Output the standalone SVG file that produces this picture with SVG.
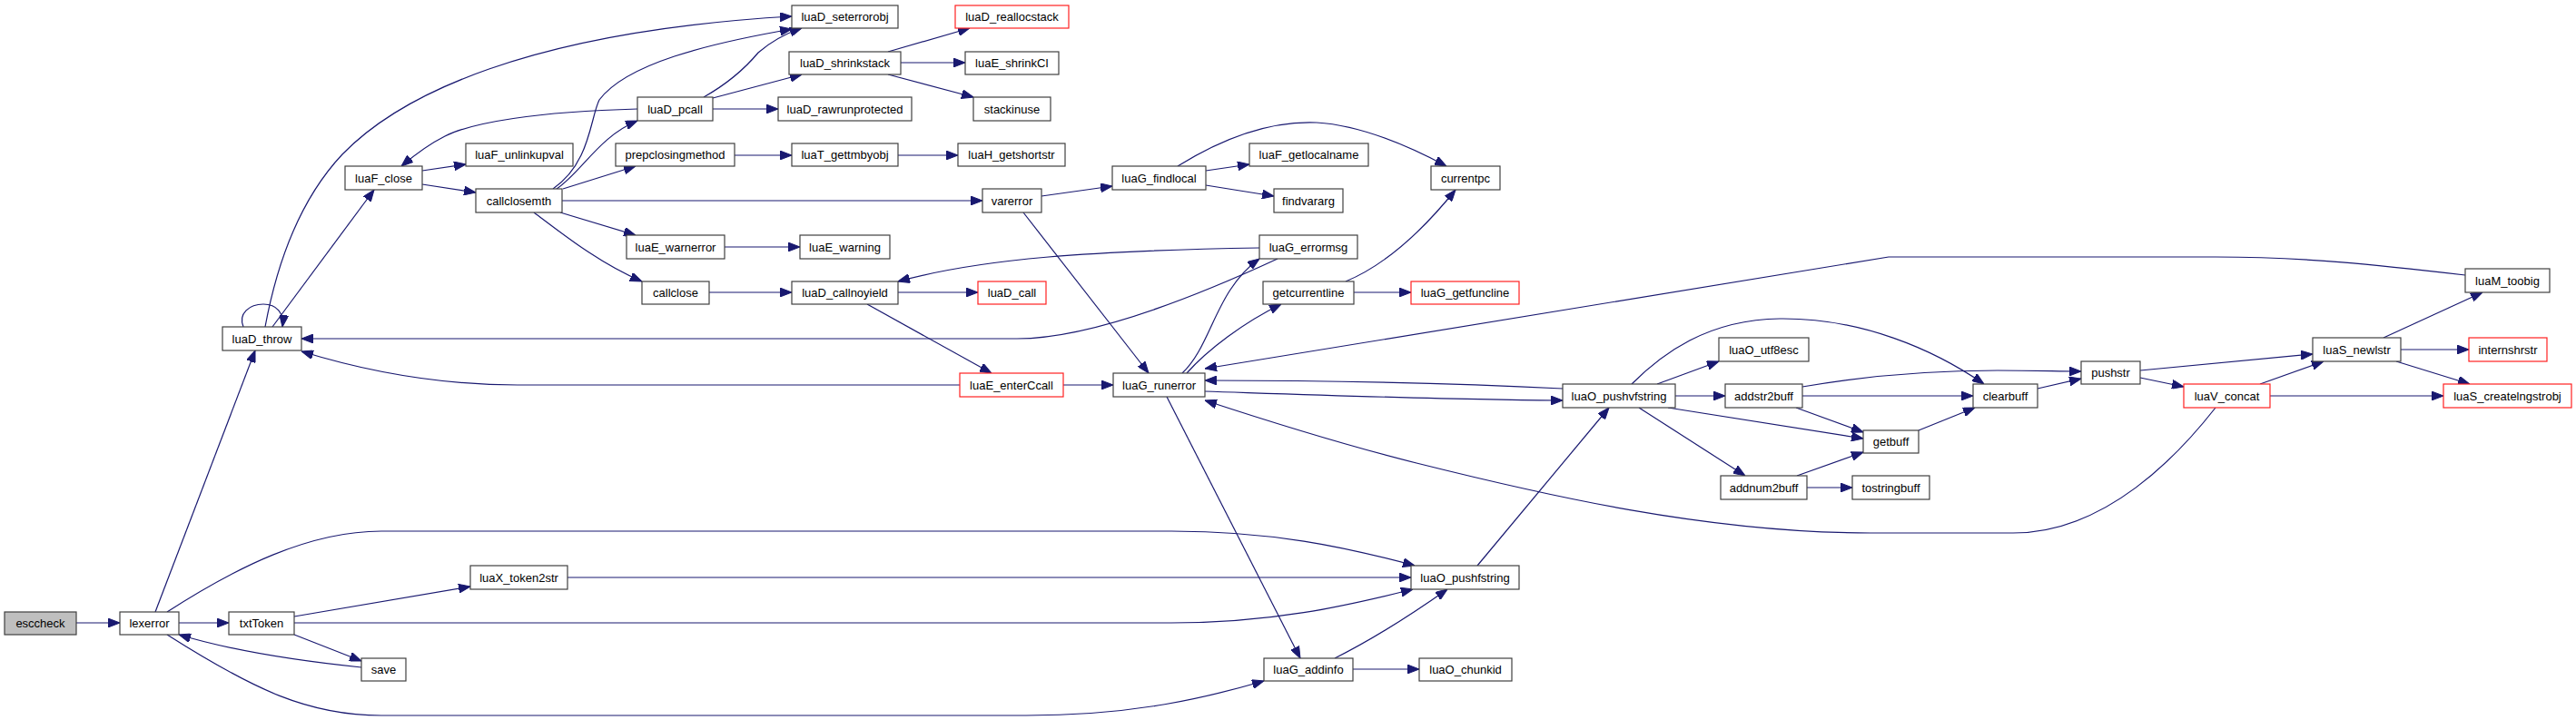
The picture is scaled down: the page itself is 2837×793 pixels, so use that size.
<svg xmlns="http://www.w3.org/2000/svg" width="2837" height="793" viewBox="0 0 2837 793">
<style>
.n rect{fill:#fff;stroke:#404040;stroke-width:1.2}
.n.r rect{stroke:#ff2020}
.n.g rect{fill:#bfbfbf}
.n text{font-family:"Liberation Sans",Arial,sans-serif;font-size:13px;fill:#000;text-anchor:middle}
.e path{fill:none;stroke:#191970;stroke-width:1.2;stroke-linejoin:round;marker-end:url(#a)}
</style>
<defs>
<marker id="a" viewBox="0 0 13 10" refX="13" refY="5" markerWidth="13" markerHeight="10" markerUnits="userSpaceOnUse" orient="auto">
<path d="M0,0 L13,5 L0,10 z" fill="#191970" stroke="#191970" stroke-width="1"/>
</marker>
</defs>
<rect width="2837" height="793" fill="#fff"/>
<g id="edges" class="e">
<path d="M84,686 L132,686"/>
<path d="M171,674 L281,386"/>
<path d="M197,686 L252,686"/>
<path d="M184,674 C260,625 340,585 420,585 L1290,585 C1400,585 1480,602 1558,623"/>
<path d="M184,699 C280,760 340,788 420,788 L1130,788 C1250,788 1330,768 1392,750"/>
<path d="M324,679 L518,646"/>
<path d="M324,686 L1290,686 C1400,686 1480,668 1556,649"/>
<path d="M324,699 L398,728"/>
<path d="M398,735 C330,728 260,718 197,699"/>
<path d="M625,636 L1554,636"/>
<path d="M1627,623 L1772,449"/>
<path d="M1470,725 C1510,705 1550,680 1594,649"/>
<path d="M1490,737 L1563,737"/>
<path d="M1285,437 L1432,725"/>
<path d="M1327,431 C1480,436 1620,441 1721,441"/>
<path d="M1721,428 C1600,422 1450,419 1327,419"/>
<path d="M1171,424 L1226,424"/>
<path d="M1057,424 L570,424 C480,424 400,408 332,387"/>
<path d="M1407,285 C1340,316 1210,373 1120,373 L332,373"/>
<path d="M1387,273 C1200,276 1080,285 989,310"/>
<path d="M989,322 L1077,322"/>
<path d="M955,335 L1092,411"/>
<path d="M781,322 L872,322"/>
<path d="M1302,411 C1335,380 1338,320 1387,285"/>
<path d="M1307,411 C1330,385 1370,355 1411,335"/>
<path d="M1482,310 C1530,290 1570,250 1603,209"/>
<path d="M1491,322 L1554,322"/>
<path d="M1297,183 C1350,150 1400,133 1450,135 C1500,138 1550,160 1593,183"/>
<path d="M1328,188 L1376,181"/>
<path d="M1328,204 L1403,216"/>
<path d="M1147,216 L1225,205"/>
<path d="M1127,234 L1265,411"/>
<path d="M619,221 L1082,221"/>
<path d="M617,234 L700,259"/>
<path d="M588,234 C620,258 660,290 707,310"/>
<path d="M620,208 L700,183"/>
<path d="M613,208 C640,190 660,150 702,133"/>
<path d="M609,208 C650,180 650,130 660,110 C690,70 780,48 872,32"/>
<path d="M775,107 C805,90 825,70 835,58 C850,45 865,37 883,31"/>
<path d="M785,108 L883,82"/>
<path d="M785,120 L857,120"/>
<path d="M702,120 C590,123 520,135 490,150 C470,160 455,172 442,183"/>
<path d="M465,188 L513,181"/>
<path d="M465,203 L524,212"/>
<path d="M978,57 L1068,31"/>
<path d="M992,69 L1063,69"/>
<path d="M978,82 L1072,107"/>
<path d="M809,171 L872,171"/>
<path d="M989,171 L1055,171"/>
<path d="M798,272 L881,272"/>
<path d="M268,360 C262,345 275,335 290,335 C305,335 313,345 311,360"/>
<path d="M292,360 C305,290 330,220 377,170 C440,105 580,35 872,18"/>
<path d="M300,360 L412,209"/>
<path d="M1825,423 L1893,398"/>
<path d="M1845,436 L1900,436"/>
<path d="M1837,449 L2052,483"/>
<path d="M1805,449 L1922,524"/>
<path d="M1797,423 C1830,390 1880,352 1960,351 C2050,350 2130,385 2185,423"/>
<path d="M1985,426 C2060,413 2140,408 2200,408 C2240,408 2270,409 2292,409"/>
<path d="M1985,436 L2173,436"/>
<path d="M1978,449 L2052,476"/>
<path d="M2113,474 L2175,449"/>
<path d="M1979,524 L2052,498"/>
<path d="M1990,537 L2040,537"/>
<path d="M2244,428 L2292,417"/>
<path d="M2357,408 L2547,390"/>
<path d="M2357,416 L2405,426"/>
<path d="M2489,423 L2559,398"/>
<path d="M2500,436 L2691,436"/>
<path d="M2440,449 C2400,500 2320,587 2217,587 L2060,587 C1880,587 1700,545 1560,510 C1480,490 1400,465 1327,441"/>
<path d="M2625,372 L2734,322"/>
<path d="M2644,385 L2719,385"/>
<path d="M2639,398 L2720,423"/>
<path d="M2715,303 C2620,292 2540,283 2440,283 L2080,283 L1327,406"/>
</g>
<g id="esccheck" class="n g"><rect x="5" y="674" width="79" height="25"/><text x="44.5" y="691">esccheck</text></g>
<g id="lexerror" class="n"><rect x="132" y="674" width="65" height="25"/><text x="164.5" y="691">lexerror</text></g>
<g id="txtToken" class="n"><rect x="252" y="674" width="72" height="25"/><text x="288" y="691">txtToken</text></g>
<g id="save" class="n"><rect x="398" y="725" width="49" height="25"/><text x="422.5" y="742">save</text></g>
<g id="luaD_throw" class="n"><rect x="245" y="360" width="87" height="26"/><text x="288.5" y="377.5">luaD_throw</text></g>
<g id="luaF_close" class="n"><rect x="380" y="183" width="85" height="26"/><text x="422.5" y="200.5">luaF_close</text></g>
<g id="luaD_seterrorobj" class="n"><rect x="872" y="6" width="117" height="25"/><text x="930.5" y="23">luaD_seterrorobj</text></g>
<g id="luaD_shrinkstack" class="n"><rect x="869" y="57" width="123" height="25"/><text x="930.5" y="74">luaD_shrinkstack</text></g>
<g id="luaD_pcall" class="n"><rect x="702" y="107" width="83" height="26"/><text x="743.5" y="124.5">luaD_pcall</text></g>
<g id="luaD_rawrunprotected" class="n"><rect x="857" y="107" width="147" height="26"/><text x="930.5" y="124.5">luaD_rawrunprotected</text></g>
<g id="luaF_unlinkupval" class="n"><rect x="513" y="158" width="118" height="25"/><text x="572" y="175">luaF_unlinkupval</text></g>
<g id="prepclosingmethod" class="n"><rect x="678" y="158" width="131" height="25"/><text x="743.5" y="175">prepclosingmethod</text></g>
<g id="luaT_gettmbyobj" class="n"><rect x="872" y="158" width="117" height="25"/><text x="930.5" y="175">luaT_gettmbyobj</text></g>
<g id="callclosemth" class="n"><rect x="524" y="208" width="95" height="26"/><text x="571.5" y="225.5">callclosemth</text></g>
<g id="luaE_warnerror" class="n"><rect x="690" y="259" width="108" height="26"/><text x="744" y="276.5">luaE_warnerror</text></g>
<g id="luaE_warning" class="n"><rect x="881" y="259" width="99" height="26"/><text x="930.5" y="276.5">luaE_warning</text></g>
<g id="callclose" class="n"><rect x="707" y="310" width="74" height="25"/><text x="744" y="327">callclose</text></g>
<g id="luaD_callnoyield" class="n"><rect x="872" y="310" width="117" height="25"/><text x="930.5" y="327">luaD_callnoyield</text></g>
<g id="luaD_reallocstack" class="n r"><rect x="1052" y="6" width="125" height="25"/><text x="1114.5" y="23">luaD_reallocstack</text></g>
<g id="luaE_shrinkCI" class="n"><rect x="1063" y="57" width="103" height="25"/><text x="1114.5" y="74">luaE_shrinkCI</text></g>
<g id="stackinuse" class="n"><rect x="1072" y="107" width="85" height="26"/><text x="1114.5" y="124.5">stackinuse</text></g>
<g id="luaH_getshortstr" class="n"><rect x="1055" y="158" width="118" height="25"/><text x="1114" y="175">luaH_getshortstr</text></g>
<g id="varerror" class="n"><rect x="1082" y="208" width="65" height="26"/><text x="1114.5" y="225.5">varerror</text></g>
<g id="luaG_findlocal" class="n"><rect x="1225" y="183" width="103" height="26"/><text x="1276.5" y="200.5">luaG_findlocal</text></g>
<g id="luaD_call" class="n r"><rect x="1077" y="310" width="75" height="25"/><text x="1114.5" y="327">luaD_call</text></g>
<g id="luaF_getlocalname" class="n"><rect x="1376" y="158" width="131" height="25"/><text x="1441.5" y="175">luaF_getlocalname</text></g>
<g id="findvararg" class="n"><rect x="1403" y="208" width="76" height="26"/><text x="1441" y="225.5">findvararg</text></g>
<g id="luaG_errormsg" class="n"><rect x="1387" y="259" width="108" height="26"/><text x="1441" y="276.5">luaG_errormsg</text></g>
<g id="getcurrentline" class="n"><rect x="1391" y="310" width="100" height="25"/><text x="1441" y="327">getcurrentline</text></g>
<g id="currentpc" class="n"><rect x="1576" y="183" width="76" height="26"/><text x="1614" y="200.5">currentpc</text></g>
<g id="luaG_getfuncline" class="n r"><rect x="1554" y="310" width="119" height="25"/><text x="1613.5" y="327">luaG_getfuncline</text></g>
<g id="luaE_enterCcall" class="n r"><rect x="1057" y="411" width="114" height="26"/><text x="1114" y="428.5">luaE_enterCcall</text></g>
<g id="luaG_runerror" class="n"><rect x="1226" y="411" width="101" height="26"/><text x="1276.5" y="428.5">luaG_runerror</text></g>
<g id="luaG_addinfo" class="n"><rect x="1392" y="725" width="98" height="25"/><text x="1441" y="742">luaG_addinfo</text></g>
<g id="luaO_pushvfstring" class="n"><rect x="1721" y="423" width="124" height="26"/><text x="1783" y="440.5">luaO_pushvfstring</text></g>
<g id="luaO_pushfstring" class="n"><rect x="1554" y="623" width="119" height="26"/><text x="1613.5" y="640.5">luaO_pushfstring</text></g>
<g id="luaX_token2str" class="n"><rect x="518" y="623" width="107" height="26"/><text x="571.5" y="640.5">luaX_token2str</text></g>
<g id="luaO_chunkid" class="n"><rect x="1563" y="725" width="102" height="25"/><text x="1614" y="742">luaO_chunkid</text></g>
<g id="luaO_utf8esc" class="n"><rect x="1893" y="372" width="99" height="26"/><text x="1942.5" y="389.5">luaO_utf8esc</text></g>
<g id="pushstr" class="n"><rect x="2292" y="398" width="65" height="25"/><text x="2324.5" y="415">pushstr</text></g>
<g id="addstr2buff" class="n"><rect x="1900" y="423" width="85" height="26"/><text x="1942.5" y="440.5">addstr2buff</text></g>
<g id="clearbuff" class="n"><rect x="2173" y="423" width="71" height="26"/><text x="2208.5" y="440.5">clearbuff</text></g>
<g id="getbuff" class="n"><rect x="2052" y="474" width="61" height="25"/><text x="2082.5" y="491">getbuff</text></g>
<g id="addnum2buff" class="n"><rect x="1895" y="524" width="95" height="26"/><text x="1942.5" y="541.5">addnum2buff</text></g>
<g id="tostringbuff" class="n"><rect x="2040" y="524" width="85" height="26"/><text x="2082.5" y="541.5">tostringbuff</text></g>
<g id="luaM_toobig" class="n"><rect x="2715" y="296" width="93" height="26"/><text x="2761.5" y="313.5">luaM_toobig</text></g>
<g id="luaS_newlstr" class="n"><rect x="2547" y="372" width="97" height="26"/><text x="2595.5" y="389.5">luaS_newlstr</text></g>
<g id="internshrstr" class="n r"><rect x="2719" y="372" width="86" height="26"/><text x="2762" y="389.5">internshrstr</text></g>
<g id="luaV_concat" class="n r"><rect x="2405" y="423" width="95" height="26"/><text x="2452.5" y="440.5">luaV_concat</text></g>
<g id="luaS_createlngstrobj" class="n r"><rect x="2691" y="423" width="141" height="26"/><text x="2761.5" y="440.5">luaS_createlngstrobj</text></g>
</svg>
